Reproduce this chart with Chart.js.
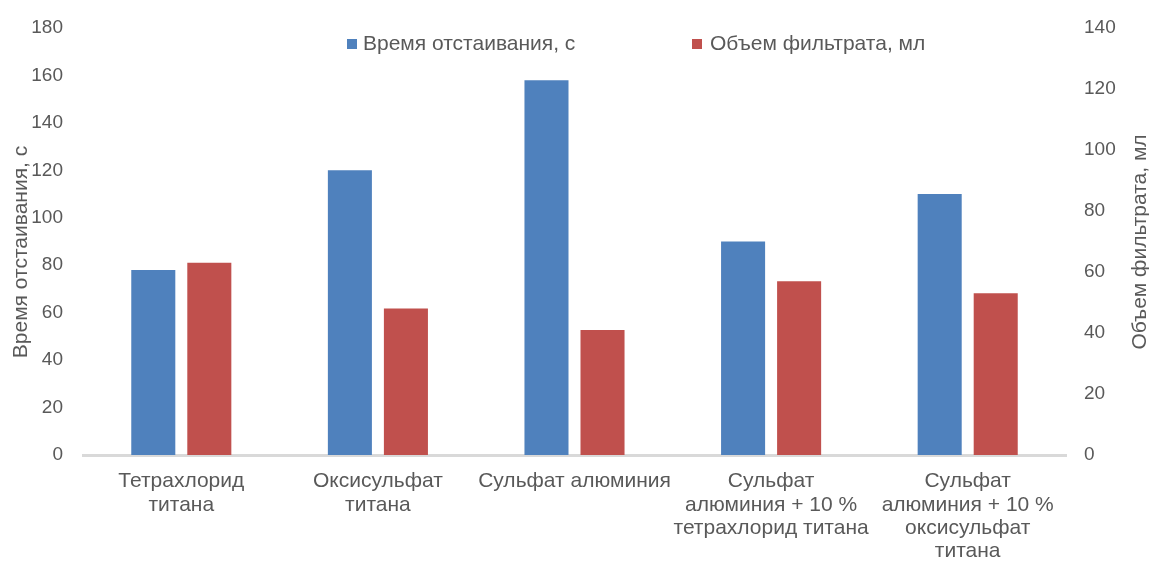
<!DOCTYPE html>
<html>
<head>
<meta charset="utf-8">
<script src="https://cdn.jsdelivr.net/npm/chart.js@4/dist/chart.umd.min.js"></script>
<style>
  html, body { margin: 0; padding: 0; background: #fff; }
  #wrap { width: 1149px; height: 561px; position: relative; }
</style>
</head>
<body>
<div id="wrap"><canvas id="chart"></canvas></div>
<script>
const categories = [
  ["Тетрахлорид", "титана"],
  ["Оксисульфат", "титана"],
  "Сульфат алюминия",
  ["Сульфат", "алюминия + 10 %", "тетрахлорид титана"],
  ["Сульфат", "алюминия + 10 %", "оксисульфат", "титана"]
];
const settlingTime = [78, 120, 158, 90, 110];   // с, left axis
const filtrateVolume = [63, 48, 41, 57, 53];    // мл, right axis
const leftTicks = { min: 0, max: 180, step: 20 };
const rightTicks = { min: 0, max: 140, step: 20 };
const leftTitle = "Время отстаивания, с";
const rightTitle = "Объем фильтрата, мл";

(function () {
  const textColor = "#595959";
  const fontFamily = "'Liberation Sans', Arial, sans-serif";
  Chart.defaults.font.family = fontFamily;
  Chart.defaults.color = textColor;

  // legend sits inside the plot, off-centre like the original; axis titles
  // both read bottom-to-top there (Chart.js would flip the right one)
  const overlay = {
    id: "overlay",
    afterDraw(chart) {
      const ctx = chart.ctx;
      const spots = [{ box: 347, text: 363 }, { box: 692, text: 710 }];
      ctx.save();
      ctx.font = "21px " + fontFamily;
      ctx.textBaseline = "middle";
      ctx.textAlign = "left";
      chart.data.datasets.forEach(function (ds, i) {
        ctx.fillStyle = ds.backgroundColor;
        ctx.fillRect(spots[i].box, 39, 10, 10);
        ctx.fillStyle = textColor;
        ctx.fillText(ds.label, spots[i].text, 44);
      });
      ctx.textAlign = "center";
      [[21, 252, leftTitle], [1140, 242, rightTitle]].forEach(function (t) {
        ctx.save();
        ctx.translate(t[0], t[1]);
        ctx.rotate(-Math.PI / 2);
        ctx.fillText(t[2], 0, 0);
        ctx.restore();
      });
      ctx.restore();
    }
  };

  // fixed axis boxes so the plot area lands where the original's does
  function fitSide(scale) {
    scale.width = 83;
    scale.paddingTop = 0;
    scale.paddingBottom = 0;
  }

  new Chart(document.getElementById("chart"), {
    type: "bar",
    data: {
      labels: categories,
      datasets: [{
        label: "Время отстаивания, с",
        data: settlingTime,
        yAxisID: "y",
        backgroundColor: "#4F81BD",
        categoryPercentage: 0.57,
        barPercentage: 0.786,
      }, {
        label: "Объем фильтрата, мл",
        data: filtrateVolume,
        yAxisID: "y2",
        backgroundColor: "#C0504D",
        categoryPercentage: 0.57,
        barPercentage: 0.786,
      }],
    },
    options: {
      responsive: true,
      maintainAspectRatio: false,
      animation: false,
      layout: { padding: { top: 28, left: 0, right: 0, bottom: 0 } },
      plugins: {
        legend: { display: false },
        tooltip: { enabled: false },
      },
      scales: {
        x: {
          grid: { display: false, drawTicks: false },
          border: { display: true, color: "#d9d9d9", width: 3 },
          ticks: {
            color: textColor,
            font: { size: 21, lineHeight: 1.11 },
            padding: 15,
            maxRotation: 0,
            autoSkip: false,
          },
          afterFit: function (scale) { scale.height = 106; },
        },
        y: {
          position: "left",
          min: leftTicks.min,
          max: leftTicks.max,
          grid: { display: false, drawTicks: false },
          border: { display: false },
          ticks: {
            stepSize: leftTicks.step,
            color: textColor,
            font: { size: 19 },
            padding: 20,
          },
          afterFit: fitSide,
        },
        y2: {
          position: "right",
          min: rightTicks.min,
          max: rightTicks.max,
          grid: { display: false, drawTicks: false },
          border: { display: false },
          ticks: {
            stepSize: rightTicks.step,
            color: textColor,
            font: { size: 19 },
            padding: 18,
          },
          afterFit: fitSide,
        },
      },
    },
    plugins: [overlay],
  });
})();
</script>
</body>
</html>
